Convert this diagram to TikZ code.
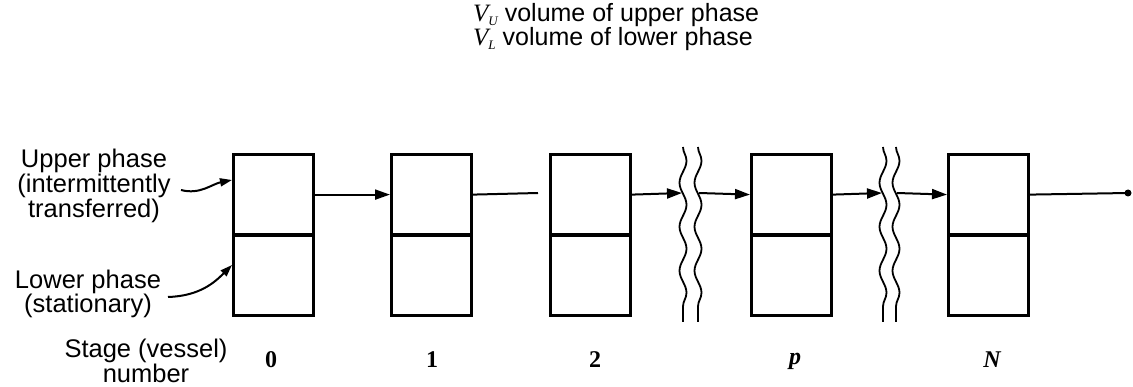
\documentclass[tikz,border=0pt]{standalone}
\usepackage{fontspec}
\setmainfont{Liberation Sans}
\newfontfamily\serifnum{Liberation Serif}
\usetikzlibrary{arrows.meta,decorations.pathmorphing}
\begin{document}
\begin{tikzpicture}[x=1pt,y=-1pt,
  half/.style={draw,line width=3.2pt,minimum width=80pt,minimum height=80pt,inner sep=0pt,anchor=north west},
  flow/.style={line width=2pt},
  arr/.style={flow,-{Triangle[length=15pt,width=10pt]}},
  lbl/.style={font=\fontsize{25.5}{23.5}\selectfont,align=center,inner sep=0pt},
  top/.style={font=\fontsize{25}{22}\selectfont,inner sep=0pt,anchor=west},
  num/.style={font=\serifnum\bfseries\fontsize{24}{24}\selectfont,inner sep=0pt},
  wave/.style={line width=1.8pt,decorate,decoration={snake,segment length=44pt,amplitude=3.5pt}}]
\useasboundingbox (0,0) rectangle (1133,387);
% boxes
\foreach \n/\x in {0/232,1/390,2/549,p/750,N/947}{
  \node[half] (u\n) at (\x,153) {};
  \node[half] (l\n) at (\x,234) {};
}
% wavy breaks
\coordinate (w1t) at (683,147); \coordinate (w1b) at (683,322);
\coordinate (w2t) at (698,147); \coordinate (w2b) at (698,322);
\coordinate (w3t) at (883,147); \coordinate (w3b) at (883,322);
\coordinate (w4t) at (896,147); \coordinate (w4b) at (896,322);
\draw[wave] (w1t) -- (w1b);
\draw[wave] (w2t) -- (w2b);
\draw[wave] (w3t) -- (w3b);
\draw[wave] (w4t) -- (w4b);
% flow
\coordinate (a1) at (682,193); \coordinate (a2) at (699,193);
\coordinate (a3) at (882,193); \coordinate (a4) at (897,193);
\coordinate (c2) at (538,193);
\coordinate (end) at (1128,193);
\draw[arr] (u0.east) -- (u1.west);
\draw[flow] (u1.east) -- (c2);
\draw[arr] (u2.east) -- (a1);
\draw[arr] (a2) -- (up.west);
\draw[arr] (up.east) -- (a3);
\draw[arr] (a4) -- (uN.west);
\draw[flow] (uN.east) -- (end);
\fill (end) circle (3.5pt);
% labels
\node[lbl] (tU) at (94,186) {Upper phase\\(intermittently\\transferred)};
\node[lbl] (tL) at (88,294) {Lower phase\\(stationary)};
\node[lbl] (tS) at (146,361) {Stage (vessel)\\number};
\coordinate (s1) at (181,190);
\coordinate (s2) at (168,297);
\draw[flow,-{Triangle[length=12pt,width=8pt]}] (s1) .. controls (200,195) and (212,184) .. (u0.west|-0,180);
\draw[flow,-{Triangle[length=12pt,width=8pt]}] (s2) .. controls (200,296) and (215,282) .. (l0.west|-0,265);
\node[num] (n0) at (271,360) {0};
\node[num] (n1) at (432,360) {1};
\node[num] (n2) at (595,360) {2};
\node[num] (np) at (795,361) {\itshape p};
\node[num] (nN) at (992,360) {\itshape N};
\node[top] (vu) at (473,15) {{\serifnum\itshape V\raisebox{-4pt}{\fontsize{13}{13}\selectfont U}} volume of upper phase};
\node[top] (vl) at (473,39) {{\serifnum\itshape V\raisebox{-4pt}{\fontsize{13}{13}\selectfont L}} volume of lower phase};
\end{tikzpicture}
\end{document}
